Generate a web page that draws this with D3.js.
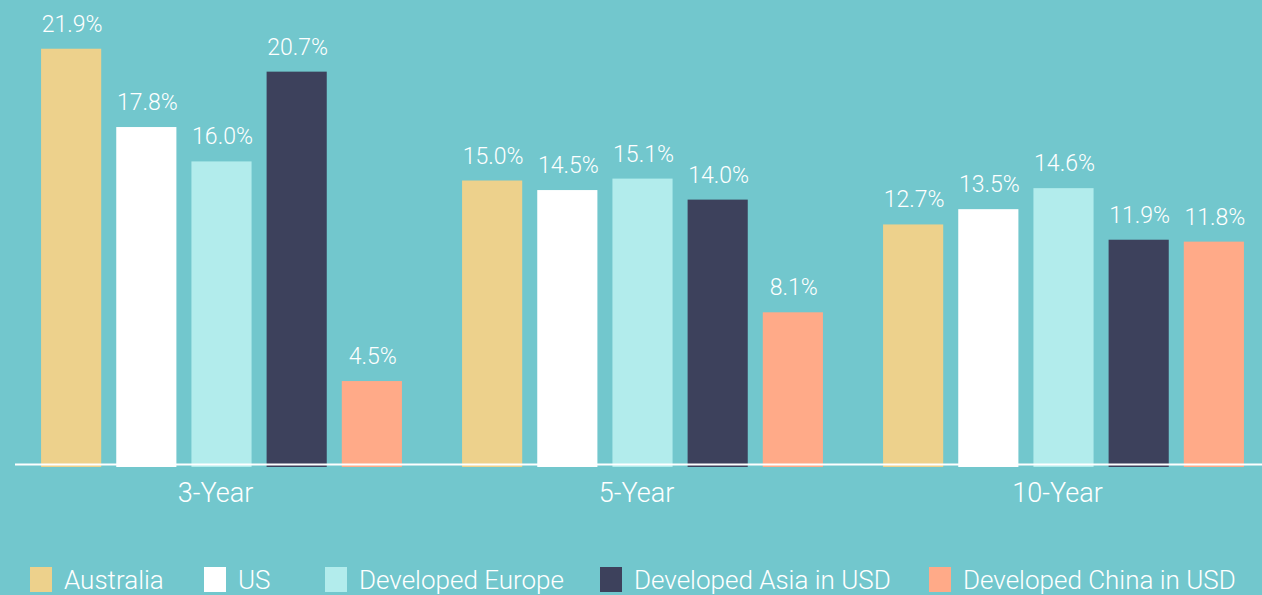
<!DOCTYPE html>
<html>
<head>
<meta charset="utf-8">
<script src="https://cdn.jsdelivr.net/npm/d3@7"></script>
<style>
  html, body { margin: 0; padding: 0; background: #72c7cd; }
  svg { display: block; }
  text { font-family: Roboto, 'Open Sans', sans-serif; font-weight: 300; fill: #fff; }
</style>
</head>
<body>
<svg id="chart" width="1262" height="595"></svg>
<script>
// periods on the x axis
const periods = ['3-Year', '5-Year', '10-Year'];
// series (markets)
const markets = ['Australia', 'US', 'Developed Europe', 'Developed Asia in USD', 'Developed China in USD'];
const colours = ['#edd18c', '#ffffff', '#b2ecec', '#3d415c', '#ffaa88'];
// annualised returns, % (one array per period, in market order)
const returns3y = [21.9, 17.8, 16.0, 20.7, 4.5];
const returns5y = [15.0, 14.5, 15.1, 14.0, 8.1];
const returns10y = [12.7, 13.5, 14.6, 11.9, 11.8];

const rows = [returns3y, returns5y, returns10y];
const W = 1262, H = 595;
const svg = d3.select('svg#chart');

const x0 = d3.scaleBand().domain(periods).range([11, 1274]);
const x1 = d3.scaleBand().domain(markets).range([0, x0.bandwidth()])
  .paddingInner(0.2).paddingOuter(0.4);
const y = d3.scaleLinear().domain([0, 22.2]).range([467, 43]);
const colour = d3.scaleOrdinal().domain(markets).range(colours);

const groups = svg.append('g').selectAll('g')
  .data(periods)
  .join('g')
  .attr('transform', d => `translate(${x0(d)},0)`);

const cells = groups.selectAll('g')
  .data((p, i) => markets.map((m, j) => ({market: m, value: rows[i][j]})))
  .join('g');

cells.append('rect')
  .attr('x', d => x1(d.market))
  .attr('width', x1.bandwidth())
  .attr('y', d => y(d.value))
  .attr('height', d => y(0) - y(d.value))
  .attr('fill', d => colour(d.market));

cells.append('text')
  .attr('x', d => x1(d.market) + x1.bandwidth() / 2 + 1)
  .attr('y', d => y(d.value) - 17)
  .attr('text-anchor', 'middle')
  .style('font-size', '23px')
  .text(d => d.value.toFixed(1) + '%');

// baseline
svg.append('line')
  .attr('x1', 15).attr('x2', W)
  .attr('y1', 464.5).attr('y2', 464.5)
  .attr('stroke', '#fff')
  .attr('stroke-width', 2);

// category labels
const xAxis = svg.append('g')
  .attr('transform', 'translate(0,464)')
  .call(d3.axisBottom(x0).tickSize(0).tickPadding(0));
xAxis.select('.domain').remove();
xAxis.selectAll('text')
  .attr('dy', null)
  .attr('y', 38)
  .attr('dx', -6)
  .style('font-size', '27px')
  .style('font-family', null)
  .attr('fill', null);

// legend
const legendX = [30, 204, 325, 600, 929];
const legend = svg.append('g').selectAll('g')
  .data(markets)
  .join('g')
  .attr('transform', (d, i) => `translate(${legendX[i]},567)`);
legend.append('rect')
  .attr('width', 22).attr('height', 25)
  .attr('fill', d => colour(d));
legend.append('text')
  .attr('x', 34).attr('y', 22)
  .style('font-size', '26px')
  .text(d => d);
</script>
</body>
</html>
